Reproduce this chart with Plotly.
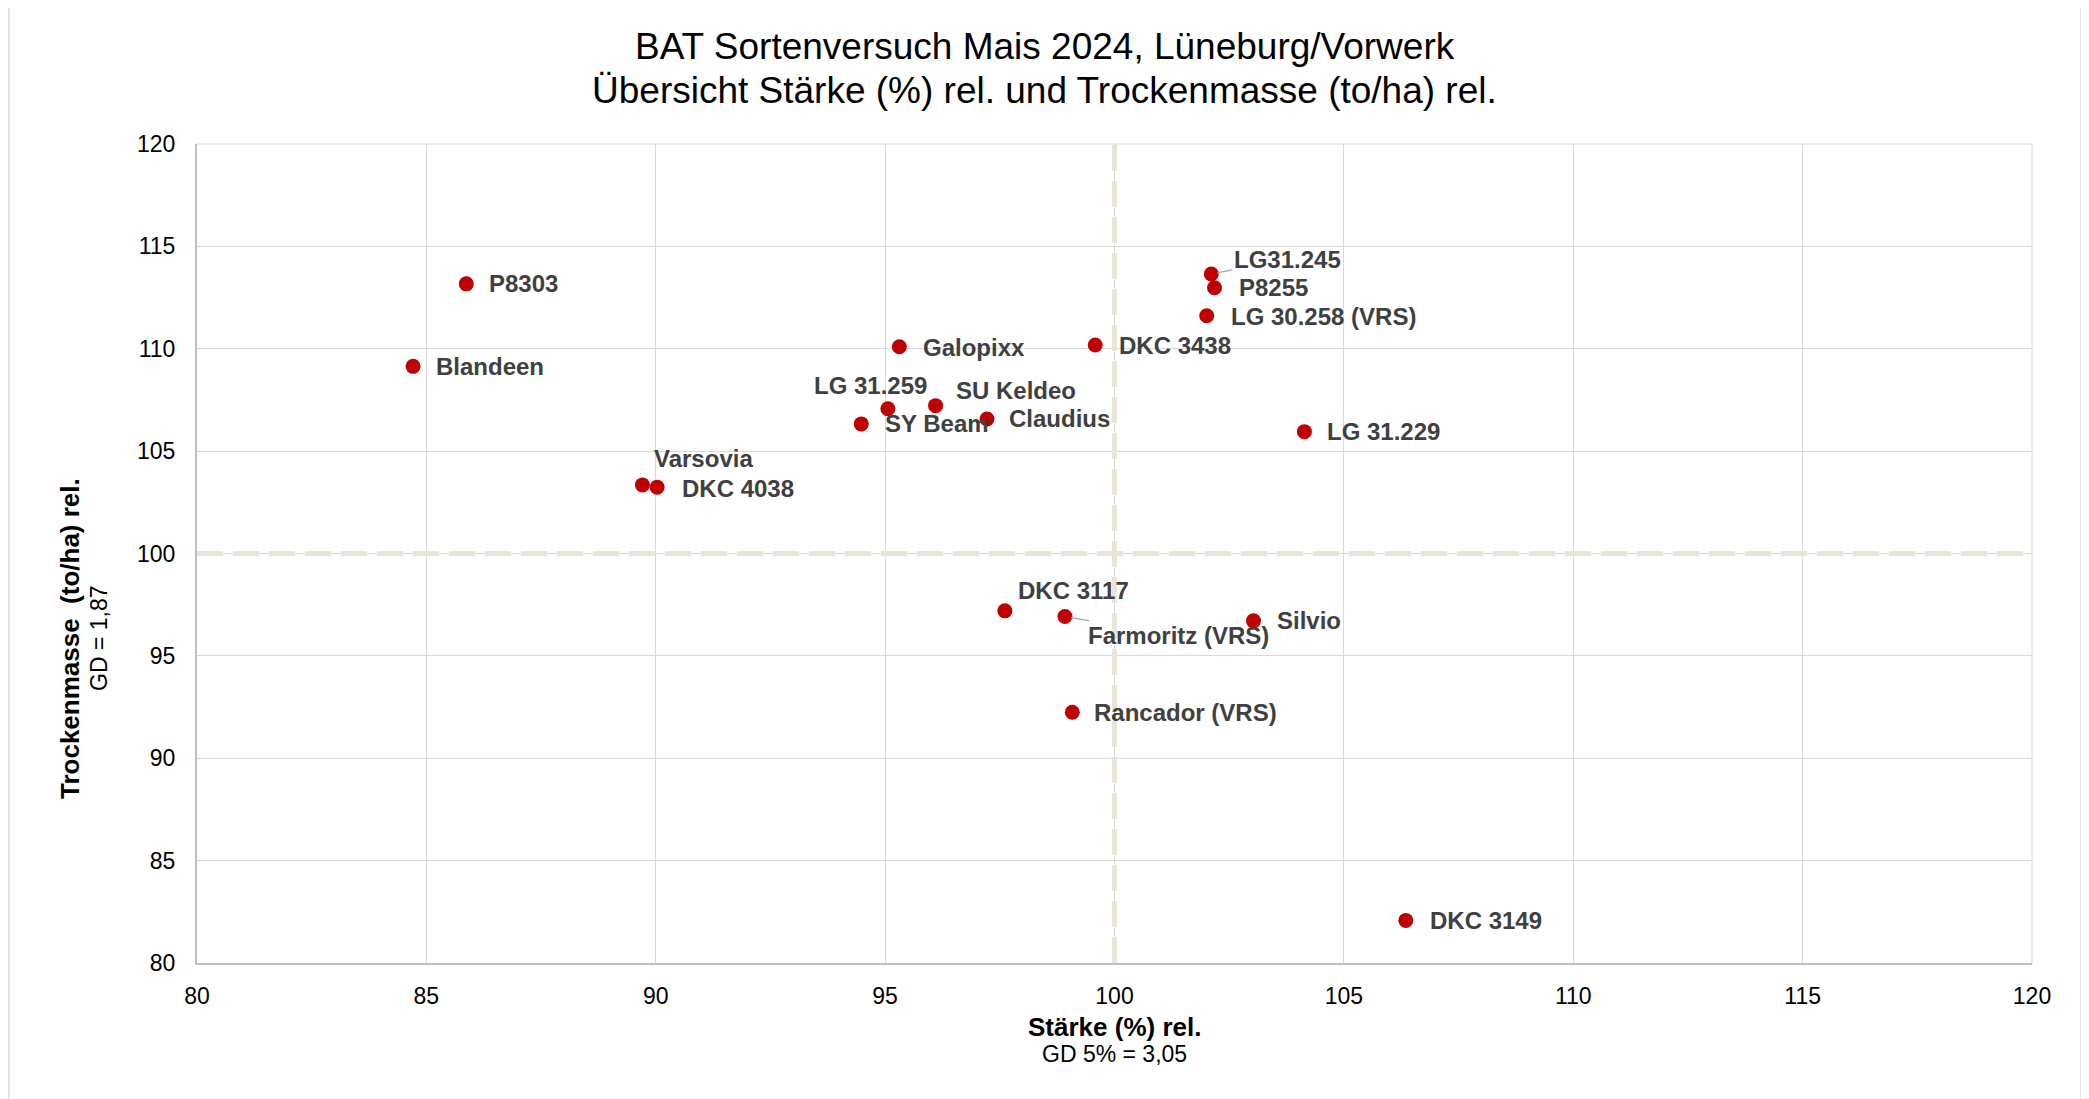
import plotly.graph_objects as go

# ---- data ----
sorten = ["P8303", "Blandeen", "Galopixx", "DKC 3438", "LG31.245", "P8255",
          "LG 30.258 (VRS)", "LG 31.259", "SU Keldeo", "SY Beam", "Claudius",
          "LG 31.229", "Varsovia", "DKC 4038", "DKC 3117", "Farmoritz (VRS)",
          "Silvio", "Rancador (VRS)", "DKC 3149"]
staerke_rel = [85.87, 84.71, 95.31, 99.58, 102.11, 102.18,
               102.01, 95.06, 96.10, 94.48, 97.22,
               104.14, 89.71, 90.03, 97.61, 98.92,
               103.03, 99.08, 106.35]
tm_rel = [113.17, 109.14, 110.10, 110.18, 113.65, 112.98,
          111.61, 107.07, 107.22, 106.33, 106.57,
          105.95, 103.35, 103.24, 97.20, 96.92,
          96.71, 92.25, 82.08]
x_ticks = [80, 85, 90, 95, 100, 105, 110, 115, 120]
y_ticks = [80, 85, 90, 95, 100, 105, 110, 115, 120]
ref_x = 100
ref_y = 100

title_lines = ["BAT Sortenversuch Mais 2024, Lüneburg/Vorwerk",
               "Übersicht Stärke (%) rel. und Trockenmasse (to/ha) rel."]
x_title = "Stärke (%) rel."
x_subtitle = "GD 5% = 3,05"
y_title = "Trockenmasse  (to/ha) rel."
y_subtitle = "GD = 1,87"

# ---- label placement (pixel offsets from the point) ----
# (xanchor, xshift, yshift, leader arrow (ax, ay) or None)
label_pos = {
    "P8303": ("left", 21, 0, None),
    "Blandeen": ("left", 21, 0, None),
    "Galopixx": ("left", 22, -1, None),
    "DKC 3438": ("left", 22, 0, None),
    "LG31.245": (None, 0, 0, (76, -15)),
    "P8255": ("left", 22, 0, None),
    "LG 30.258 (VRS)": ("left", 22, -1, None),
    "LG 31.259": ("center", -17, 23, None),
    "SU Keldeo": ("left", 18, 15, None),
    "SY Beam": ("left", 22, 0, None),
    "Claudius": ("left", 20, 0, None),
    "LG 31.229": ("left", 21, 0, None),
    "Varsovia": ("left", 10, 26, None),
    "DKC 4038": ("left", 23, -1, None),
    "DKC 3117": ("left", 11, 20, None),
    "Farmoritz (VRS)": (None, 0, 0, (114, 19)),
    "Silvio": ("left", 21, 0, None),
    "Rancador (VRS)": ("left", 20, 0, None),
    "DKC 3149": ("left", 22, 0, None),
}

FONT = "Arial, 'Liberation Sans', sans-serif"
LABEL_COLOR = "#404040"
REF_COLOR = "#E8E5D7"

fig = go.Figure()
fig.add_trace(go.Scatter(
    x=staerke_rel, y=tm_rel, mode="markers", text=sorten,
    marker=dict(color="#C00000", size=15, line=dict(width=0)),
    hovertemplate="%{text}<br>Stärke: %{x}<br>TM: %{y}<extra></extra>",
    showlegend=False,
))

annotations = []
for name, xv, yv in zip(sorten, staerke_rel, tm_rel):
    xa, dx, dy, arrow = label_pos[name]
    if arrow is None:
        annotations.append(dict(
            x=xv, y=yv, xref="x", yref="y", text=f"<b>{name}</b>",
            showarrow=False, xanchor=xa, yanchor="middle",
            xshift=dx, yshift=dy,
            font=dict(family=FONT, size=24, color=LABEL_COLOR),
        ))
    else:
        annotations.append(dict(
            x=xv, y=yv, xref="x", yref="y", text=f"<b>{name}</b>",
            showarrow=True, ax=arrow[0], ay=arrow[1], arrowhead=0,
            arrowwidth=1.3, arrowcolor="#A6A6A6", standoff=6,
            font=dict(family=FONT, size=24, color=LABEL_COLOR),
        ))

# title lines
annotations += [
    dict(x=0.462, y=1, xref="paper", yref="paper", yshift=98, xanchor="center",
         yanchor="middle", showarrow=False, text=title_lines[0],
         font=dict(family=FONT, size=37, color="#000000")),
    dict(x=0.462, y=1, xref="paper", yref="paper", yshift=54, xanchor="center",
         yanchor="middle", showarrow=False, text=title_lines[1],
         font=dict(family=FONT, size=37, color="#000000")),
]

# axis titles
annotations += [
    dict(x=0.5, y=0, xref="paper", yref="paper", yshift=-64, xanchor="center",
         yanchor="middle", showarrow=False, text=f"<b>{x_title}</b>",
         borderpad=0, borderwidth=0,
         font=dict(family=FONT, size=26, color="#000000")),
    dict(x=0.5, y=0, xref="paper", yref="paper", yshift=-91, xanchor="center",
         yanchor="middle", showarrow=False, text=x_subtitle,
         borderpad=0, borderwidth=0,
         font=dict(family=FONT, size=23, color="#000000")),
    dict(x=0, y=0.3956, xref="paper", yref="paper", xshift=-127, xanchor="center",
         yanchor="middle", showarrow=False, textangle=-90,
         text=f"<b>{y_title}</b>", borderpad=0, borderwidth=0,
         font=dict(family=FONT, size=26, color="#000000")),
    dict(x=0, y=0.3956, xref="paper", yref="paper", xshift=-98, xanchor="center",
         yanchor="middle", showarrow=False, textangle=-90,
         text=y_subtitle, borderpad=0, borderwidth=0,
         font=dict(family=FONT, size=23, color="#000000")),
]

shapes = [
    # reference lines at 100 / 100
    dict(type="line", xref="x", yref="y", x0=ref_x, x1=ref_x, y0=y_ticks[0], y1=y_ticks[-1],
         line=dict(color=REF_COLOR, width=5, dash="26px,10px"), layer="above"),
    dict(type="line", xref="x", yref="y", x0=x_ticks[0], x1=x_ticks[-1], y0=ref_y, y1=ref_y,
         line=dict(color=REF_COLOR, width=5, dash="26px,10px"), layer="above"),
    # top/right plot border
    dict(type="line", xref="paper", yref="paper", x0=0, x1=1, y0=1, y1=1,
         line=dict(color="#D9D9D9", width=1), layer="below"),
    dict(type="line", xref="paper", yref="paper", x0=1, x1=1, y0=0, y1=1,
         line=dict(color="#D9D9D9", width=1), layer="below"),
    # chart area border
    dict(type="rect", xref="paper", yref="paper", x0=-0.1025, x1=1.0267, y0=-0.25, y1=1.1709,
         line=dict(color="#D9D9D9", width=1.5), layer="below"),
]

fig.update_layout(
    width=2081, height=1091,
    margin=dict(l=189, r=57, t=136, b=136),
    paper_bgcolor="#FFFFFF", plot_bgcolor="#FFFFFF",
    font=dict(family=FONT, color="#000000"),
    annotations=annotations,
    shapes=shapes,
    showlegend=False,
)
fig.update_xaxes(
    range=[x_ticks[0], x_ticks[-1]], tickvals=x_ticks, ticktext=[str(v) for v in x_ticks],
    showgrid=True, gridcolor="#D9D9D9", gridwidth=1,
    showline=True, linecolor="#BFBFBF", linewidth=2,
    zeroline=False, ticks="", ticklabelstandoff=11,
    tickfont=dict(family=FONT, size=23, color="#000000"),
)
fig.update_yaxes(
    range=[y_ticks[0], y_ticks[-1]], tickvals=y_ticks, ticktext=[str(v) for v in y_ticks],
    showgrid=True, gridcolor="#D9D9D9", gridwidth=1,
    showline=True, linecolor="#BFBFBF", linewidth=2,
    zeroline=False, ticks="", ticklabelstandoff=15,
    tickfont=dict(family=FONT, size=23, color="#000000"),
)

fig.write_html("out.html")
